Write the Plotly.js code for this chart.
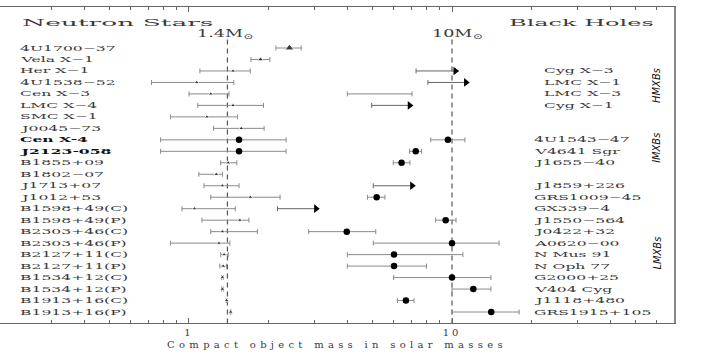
<!DOCTYPE html>
<html><head><meta charset="utf-8">
<script src="https://cdn.plot.ly/plotly-3.0.1.min.js"></script>
<style>body{margin:0;background:#fff}#chart{width:719px;height:361px}</style>
</head><body><div id="chart"></div>
<script>
// ---------- data ----------
const nsNames = ["4U1700\u221237","Vela X\u22121","Her X\u22121","4U1538\u221252","Cen X\u22123","LMC X\u22124","SMC X\u22121","J0045\u221273","Cen X-4","J2123-058","B1855+09","B1802\u221207","J1713+07","J1012+53","B1598+49(C)","B1598+49(P)","B2303+46(C)","B2303+46(P)","B2127+11(C)","B2127+11(P)","B1534+12(C)","B1534+12(P)","B1913+16(C)","B1913+16(P)"];
const nsMass = [2.41,1.87,1.47,1.07,1.21,1.47,1.17,1.58,1.55,1.55,1.41,1.27,1.34,1.71,1.05,1.56,1.34,1.30,1.36,1.35,1.34,1.34,1.39,1.44];
const nsLo   = [2.14,1.72,1.10,0.72,1.00,1.08,0.85,1.24,0.78,0.78,1.32,1.09,1.14,1.21,0.94,1.12,1.21,0.85,1.32,1.31,1.33,1.33,1.385,1.435];
const nsHi   = [2.67,2.03,1.71,1.48,1.42,1.92,1.53,1.93,2.34,2.34,1.52,1.34,1.55,2.22,1.50,1.69,1.82,1.43,1.41,1.39,1.35,1.35,1.395,1.445];
const nsKind = ["t","t","t","t","t","t","t","t","e","e","t","t","t","t","t","t","t","t","t","t","t","t","t","t"];
const nsBold = ["Cen X-4","J2123-058"];

const bhNames = ["Cyg X\u22123","LMC X\u22121","LMC X\u22123","Cyg X\u22121","4U1543\u221247","V4641 Sgr","J1655\u221240","J1859+226","GRS1009\u221245","GX339\u22124","J1550\u2212564","J0422+32","A0620\u221200","N Mus 91","N Oph 77","G2000+25","V404 Cyg","J1118+480","GRS1915+105"];
const bhRow  = [2,3,4,5,8,9,10,12,13,14,15,16,17,18,19,20,21,22,23];
const bhMass = [10.3,11.3,5.3,6.9,9.65,7.28,6.43,7.05,5.17,3.04,9.46,3.98,10.0,6.02,6.02,10.0,12.05,6.68,14.1];
const bhLo   = [7.3,8.1,4.0,4.95,8.3,6.9,5.98,5.02,4.77,2.17,8.66,2.85,5.02,4.0,4.0,6.0,10.0,6.2,10.0];
const bhHi   = [10.3,11.3,7.05,6.9,11.2,7.66,6.92,7.05,5.56,3.04,10.36,5.13,15.1,11.0,8.0,14.06,14.06,7.17,18.0];
const bhKind = ["a","a","r","a","e","e","e","a","e","a","e","e","e","e","e","e","e","e","e"];

const refMasses = [1.4, 10];
const refLabels = ["1.4M<sub>\u2299</sub>", "10M<sub>\u2299</sub>"];
const groupLabels = ["HMXBs","IMXBs","LMXBs"];
const groupRows = [3.3, 8.7, 17.9];
const majorTicks = [1, 10];
const majorTickText = ["1", "10"];
const minorTicks = [0.3,0.4,0.5,0.6,0.7,0.8,0.9,2,3,4,5,6,7,8,9,20,30,40,50,60];
const xTitle = "Compact object mass in solar masses";

// ---------- geometry helpers ----------
const W = 674, H = 316, T = 7;
const xp = px => px / W;
const yp = py => 1 - (py - T) / H;
const serif = "DejaVu Serif, Liberation Serif, serif";
const txt = '#3a3a3a';

const traces = [];
refMasses.forEach(v => traces.push({type:'scatter', mode:'lines', x:[v, v], y:[-0.75, 24.5],
  line:{color:'#555', width:1.2, dash:'5px,4px'}, hoverinfo:'skip', showlegend:false}));

function pick(arr, idx) { return idx.map(i => arr[i]); }
function errTrace(mass, lo, hi, rows, idx, marker, color) {
  return {type:'scatter', mode:'markers', x:pick(mass, idx), y:pick(rows, idx),
    error_x:{type:'data', symmetric:false,
      array: idx.map(i => hi[i] - mass[i]), arrayminus: idx.map(i => mass[i] - lo[i]),
      color: color || '#8a8a8a', thickness:1, width:2.5},
    marker: marker, showlegend:false, hoverinfo:'x'};
}
const nsRows = nsNames.map((_, i) => i);
const nsTri = nsRows.filter(i => nsKind[i] === 't');
const nsEll = nsRows.filter(i => nsKind[i] === 'e');
traces.push(errTrace(nsMass, nsLo, nsHi, nsRows, nsTri,
  {symbol:'triangle-up', color:'#000', size: nsTri.map(i => i === 0 ? 8 : (i === 1 ? 5.5 : 4.5))}));
traces.push(errTrace(nsMass, nsLo, nsHi, nsRows, nsEll, {symbol:'circle', color:'#000', size:6.5}));

const bhIdx = bhNames.map((_, i) => i);
const bhEll = bhIdx.filter(i => bhKind[i] === 'e');
const bhArr = bhIdx.filter(i => bhKind[i] === 'a');
const bhRng = bhIdx.filter(i => bhKind[i] === 'r');
traces.push(errTrace(bhMass, bhLo, bhHi, bhRow, bhEll, {symbol:'circle', color:'#000', size:6.5}));
traces.push(errTrace(bhMass, bhLo, bhHi, bhRow, bhArr, {symbol:'triangle-right', color:'#000', size:7.5}, '#666'));
traces.push(errTrace(bhMass, bhLo, bhHi, bhRow, bhRng, {symbol:'circle', color:'#000', size:1, opacity:0}));

// ---------- annotations ----------
const ann = [], annScale = [];
function addAnn(o, s) { ann.push(Object.assign({showarrow:false}, o)); annScale.push(s || 1); }

addAnn({text:"Neutron Stars", xref:'paper', yref:'paper', x:xp(20), y:yp(22), xanchor:'left', yanchor:'middle',
  font:{family:serif, size:10, color:txt}}, 2.65);
addAnn({text:"Black Holes", xref:'paper', yref:'paper', x:xp(507), y:yp(22), xanchor:'left', yanchor:'middle',
  font:{family:serif, size:10, color:txt}}, 2.4);
const refPx = [195, 430];
refLabels.forEach((t, i) => addAnn({text:t, xref:'paper', yref:'paper', x:xp(refPx[i]), y:yp(34), xanchor:'left', yanchor:'middle',
  font:{family:serif, size:11, color:txt}}, 1.6));

nsNames.forEach((n, i) => {
  const b = nsBold.indexOf(n) >= 0;
  addAnn({text: b ? '<b>' + n + '</b>' : n, xref:'paper', yref:'y', x:xp(18), y:i, xanchor:'left', yanchor:'middle',
    font:{family:serif, size:7.8, color: b ? '#111' : txt}}, 2.0);
});
bhNames.forEach((n, i) => {
  const xx = bhRow[i] <= 5 ? 542 : 532;
  addAnn({text:n, xref:'paper', yref:'y', x:xp(xx), y:bhRow[i], xanchor:'left', yanchor:'middle',
    font:{family:serif, size:7.8, color:txt}}, 2.0);
});
groupLabels.forEach((g, i) => addAnn({text:'<i>' + g + '</i>', xref:'paper', yref:'y', x:xp(657), y:groupRows[i],
  xanchor:'center', yanchor:'middle', textangle:-90,
  font:{family:"Liberation Sans Narrow, DejaVu Sans Condensed, sans-serif", size:11, color:'#111'}}, 1));
addAnn({text:'<b>Radio Pulsars</b>', xref:'paper', yref:'y', x:xp(-5), y:18.5, xanchor:'center', yanchor:'middle',
  textangle:-90, font:{family:serif, size:9, color:'#111'}}, 1);

const layout = {
  width:719, height:361, margin:{l:0, r:45, t:7, b:38, pad:0},
  paper_bgcolor:'#fff', plot_bgcolor:'#fff', showlegend:false,
  xaxis:{type:'log', range:[-0.7186, 1.8441], automargin:false, showgrid:false, zeroline:false,
    showline:true, linecolor:'#666', linewidth:1, mirror:'ticks',
    ticks:'inside', ticklen:5, tickcolor:'#666', tickmode:'array', tickvals:majorTicks, ticktext:majorTickText,
    tickfont:{family:serif, size:10, color:txt},
    minor:{tickmode:'array', tickvals:minorTicks, ticks:'inside', ticklen:3, tickcolor:'#666', showgrid:false},
    title:{text:xTitle, font:{family:serif, size:10, color:txt}, standoff:0}},
  yaxis:{range:[23.958, -3.572], automargin:false, showgrid:false, zeroline:false, showticklabels:false,
    ticks:'', showline:true, side:'right', linecolor:'#888', linewidth:2},
  annotations: ann
};

Plotly.newPlot('chart', traces, layout, {staticPlot:true, displayModeBar:false}).then(() => {
  document.querySelectorAll('g.annotation').forEach(g => {
    const i = +g.getAttribute('data-index');
    const s = annScale[i];
    if (s && s !== 1) {
      const t = g.querySelector('text.annotation-text');
      if (t) {
        t.style.transformBox = 'fill-box';
        t.style.transformOrigin = 'left center';
        t.style.transform = 'scaleX(' + s + ')';
      }
    }
  });
  document.querySelectorAll('.xtick text').forEach(t => t.style.letterSpacing = '3px');
  const xt = document.querySelector('.xtitle');
  if (xt) {
    xt.style.letterSpacing = '4.3px';
    const r = xt.getBBox();
    const cy = r.y + r.height / 2;
    xt.setAttribute('y', String(+xt.getAttribute('y') - (cy - 344)));
  }
});
</script></body></html>
